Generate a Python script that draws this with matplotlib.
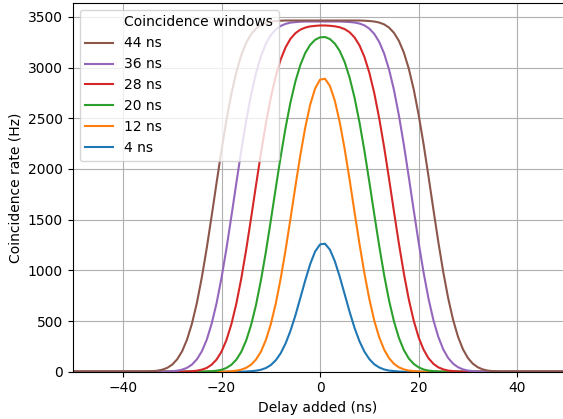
import matplotlib
matplotlib.use('Agg')
import matplotlib.pyplot as plt
import numpy as np

# delay grid (ns) and coincidence rate (Hz) for each window
delay = list(range(-50, 51))

rate_4ns = [0, 0, 0, 0, 0, 0, 0, 0, 0, 0, 0, 0, 0, 0, 0, 0, 0, 0, 0, 0,
            0, 0, 0, 0, 0, 0, 0, 0, 0, 0, 0, 0, 0, 0, 0,
            2, 5, 10, 19, 36, 65, 112, 181, 278, 404, 556, 728, 902, 1062, 1186,
            1256,
            1263, 1204, 1090, 936, 763, 590, 432, 300, 198, 124, 73, 42, 22, 11, 6, 2,
            0, 0, 0, 0, 0, 0, 0, 0, 0, 0, 0, 0, 0, 0, 0, 0, 0,
            0, 0, 0, 0, 0, 0, 0, 0, 0, 0, 0, 0, 0, 0, 0, 0, 0]

rate_12ns = [0, 0, 0, 0, 0, 0, 0, 0, 0, 0, 0, 0, 0, 0, 0, 0,
             0, 0, 0, 0, 0, 0, 0, 0, 0, 0, 0, 0, 0, 0, 0,
             2, 5, 10, 20, 38, 69, 120, 198, 312, 468, 669, 917, 1200, 1511, 1830,
             2137, 2411, 2635, 2795,
             2882,
             2890, 2819, 2673, 2460, 2195, 1893, 1574, 1261, 971, 716, 504, 340,
             218, 133, 78, 43, 23, 11, 6, 2,
             0, 0, 0, 0, 0, 0, 0, 0, 0, 0, 0, 0, 0, 0, 0,
             0, 0, 0, 0, 0, 0, 0, 0, 0, 0, 0, 0, 0, 0, 0]

rate_20ns = [0, 0, 0, 0, 0, 0, 0, 0, 0, 0, 0, 0, 0, 0,
             0, 0, 0, 0, 0, 0, 0, 0, 0, 0, 0, 0, 0,
             2, 5, 10, 19, 37, 68, 118, 195, 307, 460, 658, 901, 1181, 1490, 1808,
             2119, 2407, 2658, 2865, 3026, 3145, 3225, 3275,
             3299,
             3302, 3282, 3237, 3164, 3054, 2901, 2703, 2460, 2180, 1871, 1553, 1242,
             954, 703, 496, 334, 214, 131, 77, 43, 22, 11, 6, 2,
             0, 0, 0, 0, 0, 0, 0, 0, 0, 0, 0, 0, 0,
             0, 0, 0, 0, 0, 0, 0, 0, 0, 0, 0, 0, 0]

rate_28ns = [0, 0, 0, 0, 0, 0, 0, 0, 0, 0, 0, 0,
             0, 0, 0, 0, 0, 0, 0, 0, 0, 0, 0,
             2, 5, 10, 20, 37, 69, 120, 198, 312, 468, 669, 916, 1201, 1515, 1839,
             2155, 2447, 2703, 2914, 3079, 3200, 3285, 3340, 3375, 3395, 3407, 3412,
             3416,
             3416, 3413, 3408, 3398, 3380, 3349, 3298, 3220, 3106, 2950, 2749, 2501,
             2216, 1903, 1579, 1263, 971, 715, 504, 339, 218, 133, 78, 43, 23, 11, 6, 2,
             0, 0, 0, 0, 0, 0, 0, 0, 0, 0, 0,
             0, 0, 0, 0, 0, 0, 0, 0, 0, 0, 0]

rate_36ns = [0, 0, 0, 0, 0, 0, 0, 0, 0, 0,
             0, 0, 0, 0, 0, 0, 0, 0, 0,
             2, 5, 10, 20, 38, 70, 122, 200, 315, 473, 676, 926, 1214, 1531, 1858,
             2178, 2474, 2732, 2945, 3112, 3234, 3320, 3376, 3411, 3432, 3444, 3449,
             3453, 3455, 3455, 3455,
             3455,
             3455, 3455, 3455, 3455, 3453, 3450, 3445, 3435, 3417, 3385, 3333, 3254,
             3140, 2982, 2779, 2528, 2240, 1923, 1596, 1276, 981, 723, 509, 343, 220,
             135, 79, 44, 23, 11, 6, 2,
             0, 0, 0, 0, 0, 0, 0, 0, 0,
             0, 0, 0, 0, 0, 0, 0, 0, 0]

rate_44ns = [0, 0, 0, 0, 0, 0, 0, 0,
             0, 0, 0, 0, 0, 0, 0,
             2, 5, 10, 20, 38, 70, 122, 201, 316, 474, 678, 929, 1218, 1536, 1864,
             2185, 2481, 2740, 2954, 3121, 3244, 3330, 3386, 3421, 3442, 3454, 3459,
             3463, 3465, 3465, 3465, 3465, 3465, 3465, 3465,
             3465,
             3465, 3465, 3465, 3465, 3465, 3465, 3465, 3465, 3463, 3460, 3455, 3445,
             3427, 3395, 3343, 3264, 3149, 2991, 2787, 2536, 2247, 1929, 1601, 1280,
             984, 725, 511, 344, 221, 135, 79, 44, 23, 11, 6, 2,
             0, 0, 0, 0, 0, 0, 0,
             0, 0, 0, 0, 0, 0, 0]

windows = ['4 ns', '12 ns', '20 ns', '28 ns', '36 ns', '44 ns']
rates = [rate_4ns, rate_12ns, rate_20ns, rate_28ns, rate_36ns, rate_44ns]

for r in rates:
    assert len(r) == len(delay), len(r)

fig = plt.figure(figsize=(5.63, 4.19), dpi=100)
ax = fig.add_axes([0.1291, 0.1129, 0.8709, 0.88])

handles = []
for name, r in zip(windows, rates):
    line, = ax.plot(delay, r, label=name)
    handles.append(line)

# legend title is really an empty entry, aligned with the labels
title_entry, = ax.plot([], [], ' ', label='Coincidence windows')

ax.legend(handles=[title_entry] + handles[::-1], loc='upper left')
ax.grid(True)
ax.set_xlim(-50.2, 49.3)
ax.set_ylim(0, 3638)
ax.set_xticks([-40, -20, 0, 20, 40])
ax.spines['right'].set_visible(False)
ax.set_xlabel('Delay added (ns)')
ax.set_ylabel('Coincidence rate (Hz)')

fig.savefig('out.png', dpi=100)
